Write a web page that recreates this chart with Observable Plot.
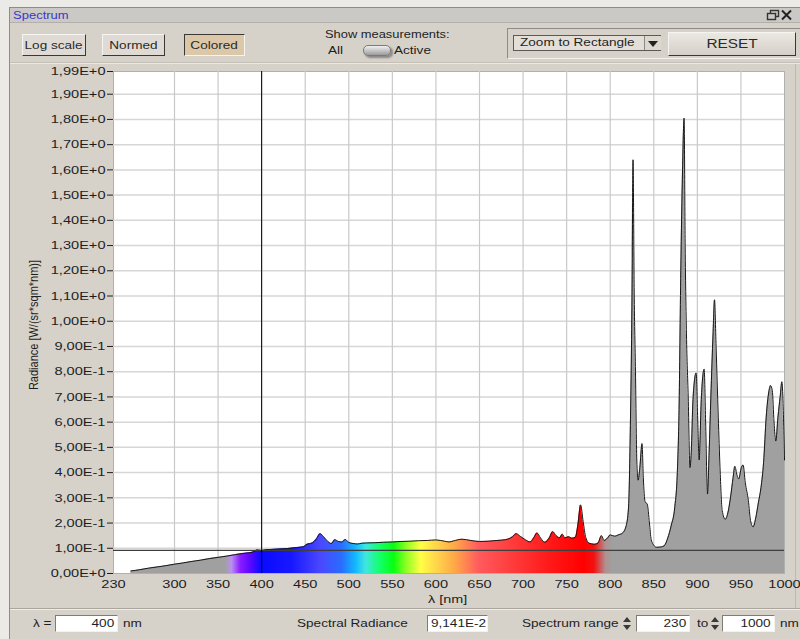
<!DOCTYPE html>
<html>
<head>
<meta charset="utf-8">
<script src="https://cdn.jsdelivr.net/npm/d3@7"></script>
<script src="https://cdn.jsdelivr.net/npm/@observablehq/plot@0.6"></script>
<style>
  html, body { margin: 0; padding: 0; }
  body {
    width: 800px; height: 639px; overflow: hidden; position: relative;
    background: #eceae6;
    font-family: "Liberation Sans", Arial, sans-serif; font-size: 11.5px; color: #1e1e1e;
  }
  .abs { position: absolute; }
  .txt { position: absolute; line-height: 14px; white-space: nowrap; }
  .w { display: inline-block; transform: scaleX(1.18); transform-origin: left center; }
  .wc { display: inline-block; transform: scaleX(1.18); transform-origin: center center; }
  .wr { display: inline-block; transform: scaleX(1.18); transform-origin: right center; }
  .btn {
    position: absolute; box-sizing: border-box; text-align: center; line-height: 20px;
    border: 1px solid; border-color: #f6f4f0 #3a3834 #3a3834 #f6f4f0;
    background: #dfdbd4; color: #2a2a2a;
  }
  .field {
    position: absolute; box-sizing: border-box; height: 17px; line-height: 15px; background: #fff;
    border: 1px solid; border-color: #7e7c78 #f4f2ee #f4f2ee #7e7c78; padding: 0 3px; white-space: nowrap;
  }
  .spin { position: absolute; width: 10px; height: 17px; }
  .spin::before, .spin::after {
    content: ""; position: absolute; left: 1px; width: 0; height: 0;
    border-left: 4px solid transparent; border-right: 4px solid transparent;
  }
  .spin::before { top: 2px; border-bottom: 5px solid #3a3a3a; }
  .spin::after { bottom: 2px; border-top: 5px solid #3a3a3a; }
  #chart { position: absolute; left: 0; top: 60px; }
</style>
</head>
<body>
<!-- window frame -->
<div class="abs" style="left:9px;top:7px;width:791px;height:632px;background:#d6d2ca;border-left:1px solid #8e8c88;border-top:1px solid #8e8c88;"></div>
<!-- title bar -->
<div class="abs" style="left:10px;top:8px;width:790px;height:14px;background:#cbc9c6;border-bottom:1px solid #b3b0ab;"></div>
<div class="txt" style="left:13px;top:9px;font-size:10px;color:#3b37c6;"><span class="w" style="transform:scaleX(1.3)">Spectrum</span></div>
<svg class="abs" style="left:766px;top:9px" width="34" height="12">
  <rect x="4.5" y="1.5" width="8" height="6" fill="none" stroke="#333" stroke-width="1.4"/>
  <rect x="1.5" y="4.5" width="8" height="6" fill="#cbc9c6" stroke="#333" stroke-width="1.4"/>
  <path d="M16 1.5 L25 10.5 M25 1.5 L16 10.5" stroke="#222" stroke-width="2"/>
</svg>

<!-- control panel -->
<div class="btn" style="left:22px;top:34px;width:64px;height:22px;"><span class="wc">Log scale</span></div>
<div class="btn" style="left:102px;top:34px;width:63px;height:22px;"><span class="wc">Normed</span></div>
<div class="btn" style="left:184px;top:34px;width:61px;height:22px;background:#dcc7a8;border-color:#3a3834 #f6f4f0 #f6f4f0 #3a3834;"><span class="wc">Colored</span></div>

<div class="txt" style="left:325px;top:27px;"><span class="w" style="transform:scaleX(1.12)">Show measurements:</span></div>
<div class="txt" style="left:328px;top:43px;"><span class="w">All</span></div>
<div class="abs" style="left:363px;top:45px;width:26px;height:9px;border-radius:5px;background:linear-gradient(#f0f0f0,#9c9c9c);border:1px solid #7a7a7a;box-shadow:2px 2px 2px #8a8884;"></div>
<div class="txt" style="left:394px;top:43px;"><span class="w">Active</span></div>

<div class="abs" style="left:507px;top:28px;width:292px;height:29px;border:1px solid;border-color:#8e8c88 #f4f2ee #f4f2ee #8e8c88;"></div>
<div class="abs" style="left:513px;top:35px;width:148px;height:16px;box-sizing:border-box;background:#e3dfd8;border:1px solid #5c5a56;"></div>
<div class="txt" style="left:520px;top:35px;"><span class="w">Zoom to Rectangle</span></div>
<div class="abs" style="left:644px;top:36px;width:16px;height:14px;background:#dcd8d0;border-left:1px solid #8a8884;"></div>
<div class="abs" style="left:648px;top:41px;width:0;height:0;border-left:5px solid transparent;border-right:5px solid transparent;border-top:6px solid #222;"></div>
<div class="btn" style="left:668px;top:32px;width:128px;height:24px;line-height:22px;background:linear-gradient(#ebe8e2,#d4d0c8);font-size:12px;"><span class="wc" style="transform:scaleX(1.28)">RESET</span></div>

<!-- plot panel edges -->
<div class="abs" style="left:10px;top:62px;width:790px;height:1px;background:#c4c0b8;"></div>
<div class="abs" style="left:10px;top:63px;width:790px;height:1px;background:#ece9e3;"></div>
<div class="abs" style="left:795px;top:64px;width:1px;height:544px;background:#bdb9b1;"></div>

<div id="chart"></div>

<!-- axis titles -->
<div class="txt" id="ylabel" style="left:-67px;top:318px;width:200px;text-align:center;font-size:11px;transform:rotate(-90deg) scaleY(1.2);"></div>
<div class="txt" id="xlabel" style="left:398px;top:592px;width:100px;text-align:center;"></div>

<!-- bottom bar -->
<div class="abs" style="left:10px;top:608px;width:790px;height:1px;background:#aaa69e;"></div>
<div class="abs" style="left:10px;top:609px;width:790px;height:1px;background:#f0ede8;"></div>
<div class="txt" style="left:33px;top:616px;"><span class="w">λ =</span></div>
<div class="field" style="left:55px;top:615px;width:63px;text-align:right;"><span class="wr" id="cursorWl"></span></div>
<div class="txt" style="left:123px;top:616px;"><span class="w">nm</span></div>
<div class="txt" style="left:297px;top:616px;"><span class="w">Spectral Radiance</span></div>
<div class="field" style="left:427px;top:615px;width:61px;"><span class="w" id="cursorRad"></span></div>
<div class="txt" style="left:522px;top:616px;"><span class="w">Spectrum range</span></div>
<div class="spin" style="left:622px;top:615px;"></div>
<div class="field" style="left:636px;top:615px;width:54px;text-align:right;"><span class="wr" id="rangeFrom"></span></div>
<div class="txt" style="left:697px;top:616px;"><span class="w">to</span></div>
<div class="spin" style="left:710px;top:615px;"></div>
<div class="field" style="left:722px;top:615px;width:53px;text-align:right;"><span class="wr" id="rangeTo"></span></div>
<div class="txt" style="left:780px;top:616px;"><span class="w">nm</span></div>

<script>
// Measured spectral radiance, W/(sr*sqm*nm), against wavelength in nm
const wavelengths = [
  250, 260, 270, 280, 290, 300, 310, 320, 330, 340,
  350, 360, 370, 380, 390, 395, 400, 405, 410, 420,
  430, 440, 448, 452, 458, 463, 467, 471, 476, 480,
  484, 488, 492, 496, 500, 505, 510, 515, 520, 530,
  540, 550, 560, 570, 580, 590, 600, 610, 615, 620,
  630, 640, 650, 660, 670, 680, 688, 692, 697, 703,
  708, 712, 716, 720, 725, 730, 734, 738, 742, 745,
  748, 752, 756, 760, 763, 766, 769, 772, 776, 782,
  786, 790, 793, 797, 800, 805, 810, 814, 818, 821,
  823, 825, 826.2, 827.5, 829, 830.5, 832, 834, 836.5, 838,
  840, 842.5, 845, 847, 850, 853, 858, 862, 866, 870,
  874, 877, 879, 881, 883, 884.8, 886, 887.5, 889.5, 891.5,
  893, 895, 898.6, 900.5, 902, 904.5, 907.8, 909.5, 911.6, 913.5,
  915.5, 918, 919.7, 921.5, 924, 926, 928.5, 932, 935, 938,
  941, 943, 945.5, 947.5, 950.5, 952.5, 955, 958.5, 961, 964,
  967, 970, 973, 976, 979, 982, 984, 986, 988, 990,
  992.5, 995, 997, 999, 1000
];
const radiance = [
  0.010, 0.015, 0.021, 0.026, 0.031, 0.037, 0.042, 0.048, 0.053, 0.059,
  0.064, 0.069, 0.075, 0.080, 0.085, 0.093, 0.0914, 0.094, 0.095, 0.097,
  0.099, 0.103, 0.106, 0.116, 0.121, 0.138, 0.158, 0.146, 0.127, 0.119,
  0.134, 0.127, 0.125, 0.135, 0.123, 0.119, 0.117, 0.120, 0.121, 0.122,
  0.124, 0.125, 0.127, 0.128, 0.130, 0.131, 0.133, 0.128, 0.125, 0.129,
  0.136, 0.131, 0.127, 0.128, 0.131, 0.134, 0.146, 0.158, 0.147, 0.133,
  0.125, 0.140, 0.161, 0.141, 0.124, 0.141, 0.166, 0.150, 0.142, 0.156,
  0.141, 0.146, 0.140, 0.144, 0.195, 0.272, 0.205, 0.142, 0.120, 0.116,
  0.121, 0.150, 0.131, 0.141, 0.153, 0.148, 0.154, 0.160, 0.185, 0.260,
  0.560, 1.100, 1.640, 1.120, 0.800, 0.450, 0.370, 0.420, 0.515, 0.380,
  0.285, 0.275, 0.200, 0.135, 0.112, 0.104, 0.105, 0.110, 0.140, 0.190,
  0.260, 0.400, 0.650, 1.200, 1.600, 1.805, 1.300, 0.950, 0.700, 0.420,
  0.480, 0.690, 0.795, 0.600, 0.450, 0.690, 0.810, 0.600, 0.315, 0.480,
  0.700, 0.950, 1.085, 0.900, 0.620, 0.420, 0.250, 0.215, 0.240, 0.300,
  0.380, 0.425, 0.390, 0.375, 0.420, 0.430, 0.360, 0.290, 0.210, 0.185,
  0.220, 0.280, 0.340, 0.440, 0.620, 0.720, 0.745, 0.725, 0.600, 0.525,
  0.620, 0.700, 0.760, 0.600, 0.450
];

// Axis ticks
const xTicks = [230, 300, 350, 400, 450, 500, 550, 600, 650, 700, 750, 800, 850, 900, 950, 1000];
const xGrid = [300, 350, 400, 450, 500, 550, 600, 650, 700, 750, 800, 850, 900, 950];
const yTicks = [0, 0.1, 0.2, 0.3, 0.4, 0.5, 0.6, 0.7, 0.8, 0.9, 1, 1.1, 1.2, 1.3, 1.4, 1.5, 1.6, 1.7, 1.8, 1.9, 1.99];
const yGrid = [0.1, 0.2, 0.3, 0.4, 0.5, 0.6, 0.7, 0.8, 0.9, 1, 1.1, 1.2, 1.3, 1.4, 1.5, 1.6, 1.7, 1.8, 1.9];

// Visible range
const rangeFrom = 230;
const rangeTo = 1000;
const radianceMax = 1.99;

// Cursor position
const cursorWl = 400;
const cursorRad = 0.09141;

// Fill colour along the wavelength axis (visible band coloured, the rest grey)
const bandWl = [250, 358, 366, 376, 388, 400, 435, 468, 492, 508, 520, 535, 552, 565, 583, 600, 622, 650, 690, 735, 770, 782, 795, 803, 1000];
const bandColor = ["#a0a0a0", "#a0a0a0", "#b98ff0", "#8a1cff", "#5808ff", "#0a0aff", "#1818ff", "#4a48ff", "#2a6cff", "#12b8ff",
                   "#40e6e0", "#14ff70", "#06ff12", "#84ff20", "#ffff44", "#ffd84a", "#ffa848", "#ff5a5e", "#ff3a3a", "#ff1616",
                   "#ff0000", "#f21212", "#b09090", "#a0a0a0", "#a0a0a0"];

const rows = wavelengths.map((wl, i) => ({wl, rad: radiance[i]}));

// Scientific notation with a decimal comma: 1,99E+0, 9,141E-2
function fmtE(v, digits = 2) {
  if (v === 0) return (0).toFixed(digits).replace(".", ",") + "E+0";
  let e = Math.floor(Math.log10(Math.abs(v)) + 1e-9);
  let s = (v / Math.pow(10, e)).toFixed(digits);
  if (s.startsWith("10")) { e += 1; s = (v / Math.pow(10, e)).toFixed(digits); }
  return s.replace(".", ",") + "E" + (e >= 0 ? "+" : "") + e;
}

// Gradient definition used as the area fill, placed through the x scale
function spectrumGradient(index, scales, values, dimensions) {
  const ns = "http://www.w3.org/2000/svg";
  const defs = document.createElementNS(ns, "defs");
  const lg = document.createElementNS(ns, "linearGradient");
  lg.setAttribute("id", "spectrum-fill");
  lg.setAttribute("gradientUnits", "userSpaceOnUse");
  const x = scales && scales.x
    ? scales.x
    : (w) => dimensions.marginLeft + (w - rangeFrom) / (rangeTo - rangeFrom) * (dimensions.width - dimensions.marginLeft - dimensions.marginRight);
  const x0 = x(rangeFrom), x1 = x(rangeTo);
  lg.setAttribute("x1", x0); lg.setAttribute("x2", x1);
  lg.setAttribute("y1", 0); lg.setAttribute("y2", 0);
  bandWl.forEach((w, i) => {
    const stop = document.createElementNS(ns, "stop");
    stop.setAttribute("offset", Math.max(0, Math.min(1, (x(w) - x0) / (x1 - x0))));
    stop.setAttribute("stop-color", bandColor[i]);
    lg.appendChild(stop);
  });
  defs.appendChild(lg);
  return defs;
}

const chart = Plot.plot({
  width: 800,
  height: 550,
  marginLeft: 113,
  marginRight: 16,
  marginTop: 11,
  marginBottom: 37,
  style: {background: "transparent", fontFamily: "'Liberation Sans', Arial, sans-serif", fontSize: "11.5px", color: "#1e1e1e"},
  x: {domain: [rangeFrom, rangeTo], ticks: xTicks, tickFormat: (d) => String(d), tickSize: 0, tickPadding: 6, label: null},
  y: {domain: [0, radianceMax], ticks: yTicks, tickFormat: (d) => fmtE(d), tickSize: 6, tickPadding: 2, label: null},
  marks: [
    spectrumGradient,
    Plot.frame({fill: "white", stroke: "#b0b0b0"}),
    Plot.ruleY(yGrid, {stroke: "#d6d6d6", strokeWidth: 1.5}),
    Plot.ruleX(xGrid, {stroke: "#c9c9c9", strokeWidth: 1.2}),
    Plot.areaY(rows, {x: "wl", y: "rad", fill: "url(#spectrum-fill)", curve: "monotone-x"}),
    Plot.lineY(rows, {x: "wl", y: "rad", stroke: "#161616", strokeWidth: 1, curve: "monotone-x"}),
    Plot.ruleY([cursorRad], {stroke: "#3e3e3e", strokeWidth: 1.3}),
    Plot.ruleX([cursorWl], {stroke: "#000", strokeWidth: 1})
  ]
});

// Wide axis lettering
chart.querySelectorAll("text").forEach((t) => {
  const ax = +(t.getAttribute("x") || 0);
  const prev = t.getAttribute("transform") || "";
  t.setAttribute("transform", `${prev} translate(${ax},0) scale(1.27,1) translate(${-ax},0)`);
});

document.getElementById("chart").appendChild(chart);

document.getElementById("ylabel").textContent = "Radiance [W/(sr*sqm*nm)]";
document.getElementById("xlabel").innerHTML = '<span class="wc" style="transform:scaleX(1.25)">λ [nm]</span>';
document.getElementById("cursorWl").textContent = String(cursorWl);
document.getElementById("cursorRad").textContent = fmtE(cursorRad, 3);
document.getElementById("rangeFrom").textContent = String(rangeFrom);
document.getElementById("rangeTo").textContent = String(rangeTo);
</script>
</body>
</html>
